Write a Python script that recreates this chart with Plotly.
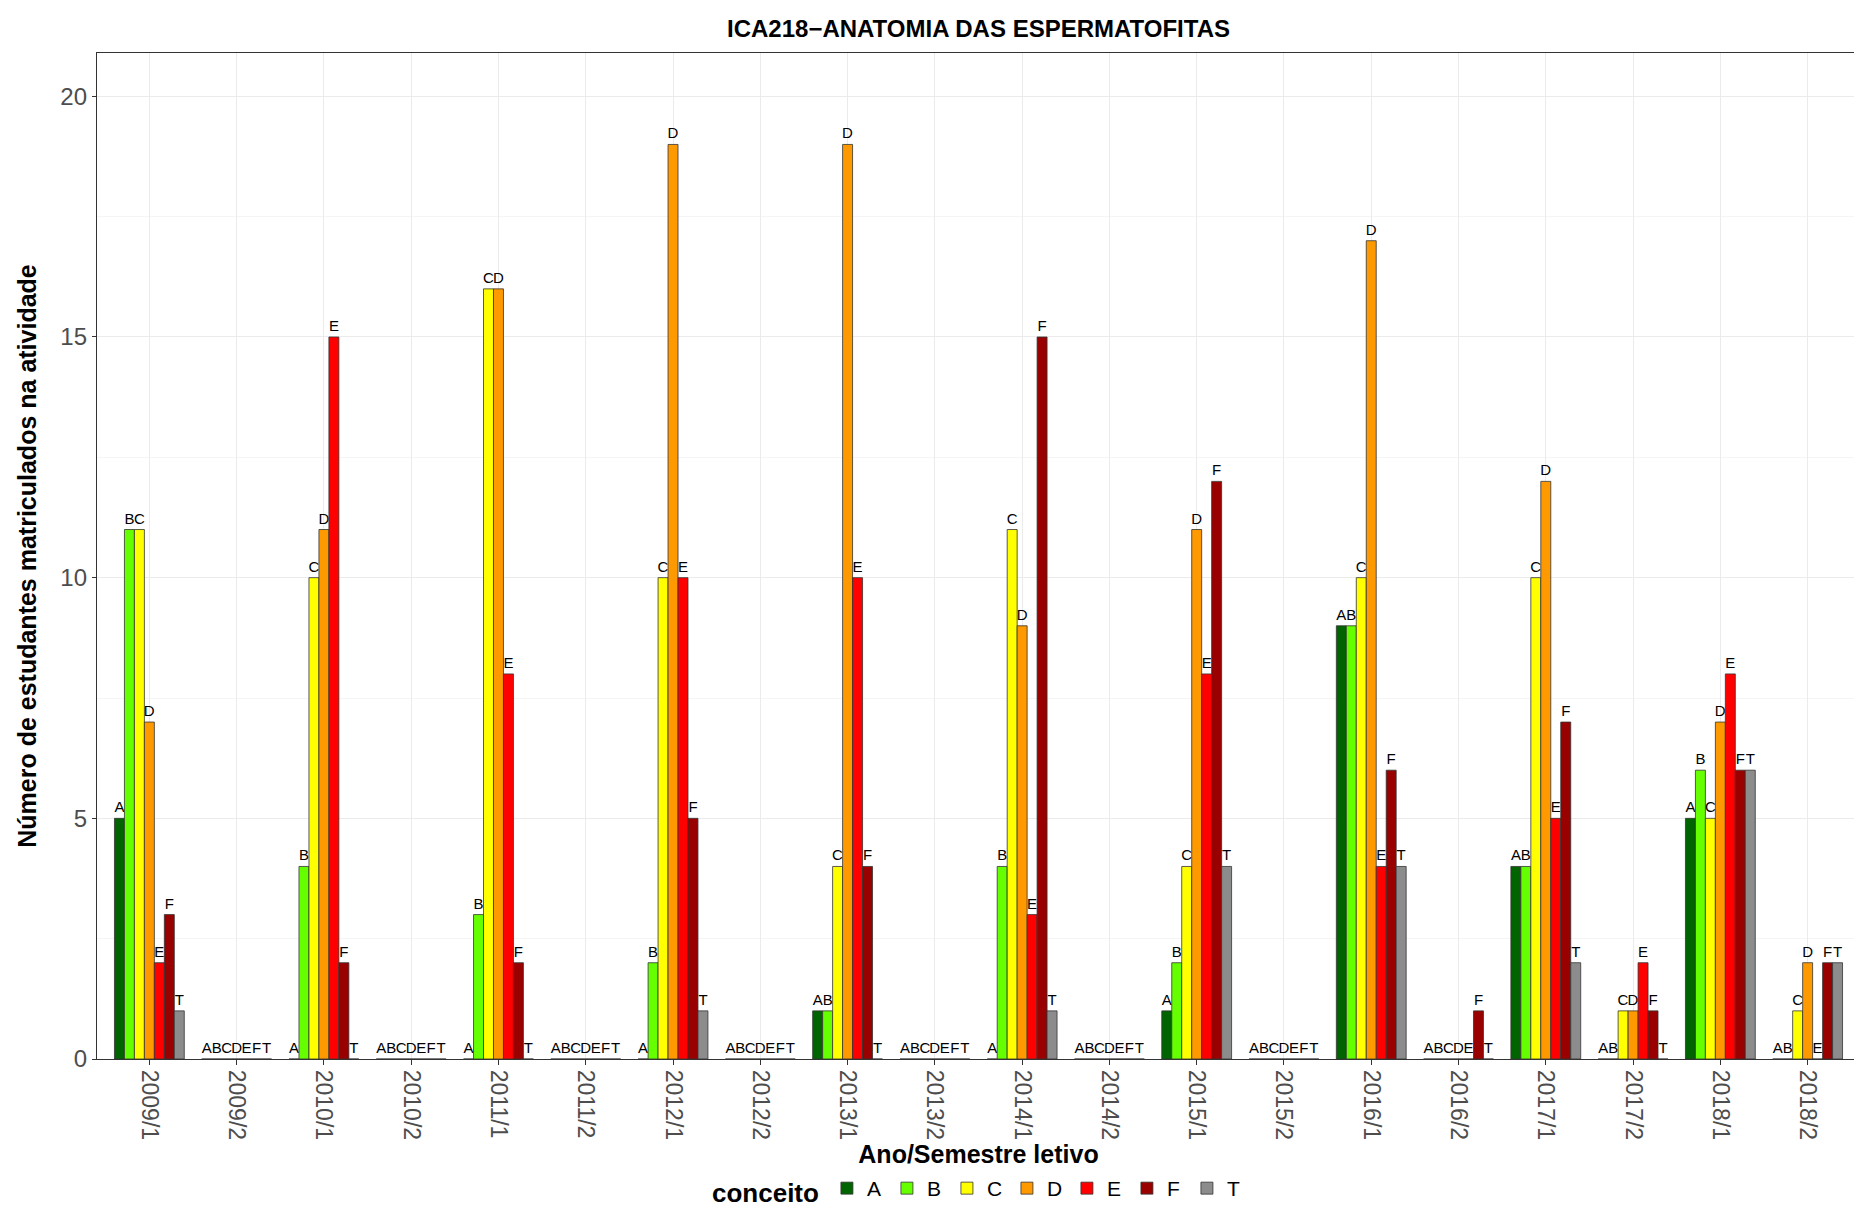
import plotly.graph_objects as go

semesters = ["2009/1", "2009/2", "2010/1", "2010/2", "2011/1", "2011/2", "2012/1",
             "2012/2", "2013/1", "2013/2", "2014/1", "2014/2", "2015/1", "2015/2",
             "2016/1", "2016/2", "2017/1", "2017/2", "2018/1", "2018/2"]

conceito_A = [5, 0, 0, 0, 0, 0, 0, 0, 1, 0, 0, 0, 1, 0, 9, 0, 4, 0, 5, 0]
conceito_B = [11, 0, 4, 0, 3, 0, 2, 0, 1, 0, 4, 0, 2, 0, 9, 0, 4, 0, 6, 0]
conceito_C = [11, 0, 10, 0, 16, 0, 10, 0, 4, 0, 11, 0, 4, 0, 10, 0, 10, 1, 5, 1]
conceito_D = [7, 0, 11, 0, 16, 0, 19, 0, 19, 0, 9, 0, 11, 0, 17, 0, 12, 1, 7, 2]
conceito_E = [2, 0, 15, 0, 8, 0, 10, 0, 10, 0, 3, 0, 8, 0, 4, 0, 5, 2, 8, 0]
conceito_F = [3, 0, 2, 0, 2, 0, 5, 0, 4, 0, 15, 0, 12, 0, 6, 1, 7, 1, 6, 2]
conceito_T = [1, 0, 0, 0, 0, 0, 1, 0, 0, 0, 1, 0, 4, 0, 4, 0, 2, 0, 6, 2]

series_names = ["A", "B", "C", "D", "E", "F", "T"]
series_values = [conceito_A, conceito_B, conceito_C, conceito_D, conceito_E, conceito_F, conceito_T]
series_colors = ["#006400", "#66FF00", "#FFFF00", "#FF9900", "#FF0000", "#990000", "#8C8C8C"]

title_text = "ICA218\u2212ANATOMIA DAS ESPERMATOFITAS"
x_title = "Ano/Semestre letivo"
y_title = "Número de estudantes matriculados na atividade"
legend_title = "conceito"
y_ticks = [0, 5, 10, 15, 20]

FONT = "Liberation Sans, Arial, Helvetica, sans-serif"
W, H = 1862, 1212

fig = go.Figure()
for name, vals, col in zip(series_names, series_values, series_colors):
    fig.add_trace(go.Bar(
        x=semesters, y=vals, name=name,
        marker=dict(color=col, line=dict(color="#333333", width=0.8)),
        text=[name] * len(vals),
        textposition="outside",
        constraintext="none",
        cliponaxis=False,
        textfont=dict(family=FONT, size=15, color="black"),
    ))

fig.update_layout(
    width=W, height=H,
    barmode="group", bargap=0.2, bargroupgap=0.0,
    plot_bgcolor="white", paper_bgcolor="white",
    margin=dict(l=89, r=10, t=45, b=161, autoexpand=False),
    font=dict(family=FONT, color="black"),
    title=dict(text="<b>" + title_text + "</b>", x=0.5, xref="paper", xanchor="center",
               y=1 - 21 / H, yref="container", yanchor="middle",
               font=dict(size=24, family=FONT, color="black")),
    showlegend=True,
    legend=dict(orientation="h", x=0.5, xanchor="center",
                y=8 / H, yref="container", yanchor="bottom",
                title=dict(text="<b>" + legend_title + "</b>", side="left",
                           font=dict(size=26, family=FONT)),
                font=dict(size=21, family=FONT, color="black"),
                entrywidth=15, entrywidthmode="pixels",
                traceorder="normal"),
)

fig.update_xaxes(
    type="category", categoryorder="array", categoryarray=semesters,
    range=[-0.6, len(semesters) - 0.4], automargin=False,
    showgrid=True, gridcolor="#EBEBEB", gridwidth=1.2,
    showline=True, mirror=True, linecolor="#333333", linewidth=1.3,
    ticks="outside", ticklen=5, tickcolor="#333333", tickwidth=1.2,
    tickangle=90, tickfont=dict(size=23, color="#4D4D4D", family=FONT),
    title=dict(text="<b>" + x_title + "</b>", font=dict(size=25, color="black", family=FONT), standoff=6),
    zeroline=False,
)
fig.update_yaxes(
    range=[0, 20.9], tickvals=y_ticks, automargin=False,
    showgrid=True, gridcolor="#EBEBEB", gridwidth=1.2,
    minor=dict(dtick=2.5, tick0=0, showgrid=True, gridcolor="#F5F5F5", gridwidth=0.8),
    showline=True, mirror=True, linecolor="#333333", linewidth=1.3,
    ticks="outside", ticklen=4, tickcolor="#333333", tickwidth=1.2,
    tickfont=dict(size=24, color="#4D4D4D", family=FONT),
    title=dict(text="<b>" + y_title + "</b>", font=dict(size=25, color="black", family=FONT), standoff=16),
    zeroline=False,
)

fig.write_html("out.html")
